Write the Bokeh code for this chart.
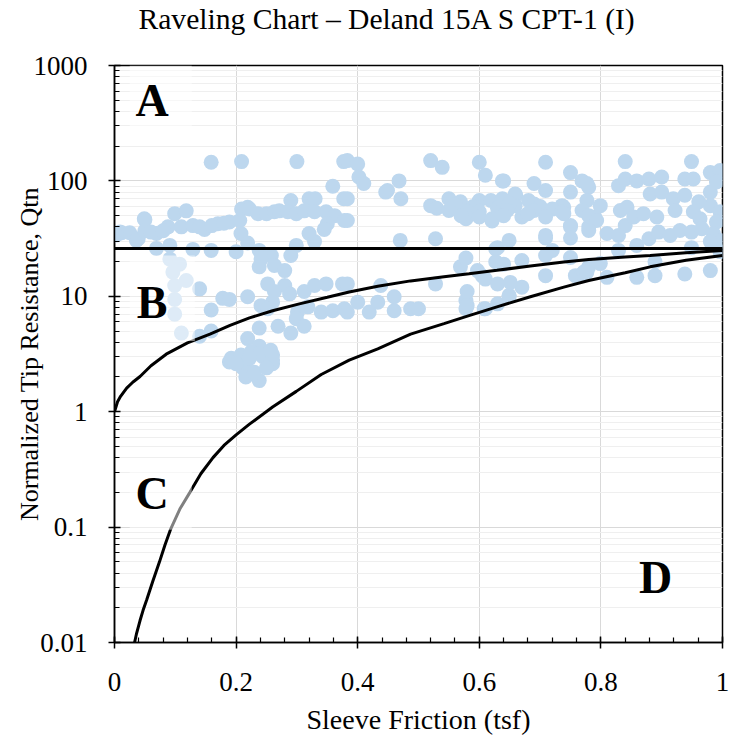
from bokeh.plotting import figure
from bokeh.models import (ColumnDataSource, FixedTicker, CustomJSTickFormatter,
                          BoxAnnotation, Label, Span, Title)
from bokeh.embed import file_html
from bokeh.resources import INLINE

# ---------------- data ----------------
fs_top = [0.159, 0.209, 0.300, 0.377, 0.383, 0.400, 0.520, 0.539, 0.600, 0.709, 0.840, 0.949]
q_top = [145, 147, 147, 147, 150, 140, 150, 131, 145, 145, 147, 147]

fs_upper = [0.359, 0.377, 0.290, 0.320, 0.330, 0.402, 0.410, 0.383, 0.449, 0.468, 0.471, 0.446,
            0.520, 0.550, 0.569, 0.610, 0.638, 0.640, 0.690, 0.709, 0.750, 0.769, 0.780, 0.750,
            0.660, 0.600, 0.619, 0.638, 0.659, 0.659, 0.681, 0.690, 0.736, 0.739, 0.777, 0.829,
            0.840, 0.859, 0.879, 0.900, 0.881, 0.900, 0.919, 0.938, 0.952, 0.938, 0.980, 0.996,
            0.980, 0.990, 0.980, 0.961, 0.777, 0.799, 0.843, 0.219,
            0.590, 0.630, 0.560, 0.700, 0.720, 0.530, 0.650]
q_upper = [90, 70, 67.6, 70, 70, 108, 95, 70, 82.6, 100, 70, 80,
           61, 70, 66, 112, 100, 100, 95, 82.6, 118, 100, 88, 80,
           75, 67.6, 67.6, 70, 77, 61, 67.6, 63, 61, 59, 95, 91,
           104, 100, 104, 108, 77, 80, 70, 104, 104, 75, 118, 123,
           80, 98, 61, 66, 67.6, 61, 59, 59,
           60, 58, 62, 60, 57, 58, 64]

fs_band = [0.049, 0.050, 0.099, 0.118, 0.088, 0.110, 0.129, 0.170, 0.189, 0.206, 0.209, 0.222,
           0.236, 0.250, 0.263, 0.271, 0.285, 0.299, 0.312, 0.329, 0.348, 0.362, 0.378, 0.350,
           0.383, 0.550, 0.578, 0.580, 0.600, 0.600, 0.621, 0.621, 0.638, 0.646, 0.670, 0.690,
           0.709, 0.736, 0.739, 0.750, 0.750, 0.769, 0.780, 0.790, 0.780, 0.793, 0.832, 0.840,
           0.854, 0.870, 0.892, 0.922, 0.952, 0.963, 0.996, 0.990,
           0.570, 0.640, 0.680]
q_band = [47, 46, 52, 55, 40, 40, 41, 42.5, 44, 45.4, 57, 57,
          52, 52, 54, 55, 54, 52, 55, 54, 54, 50, 45.4, 42.5,
          45.4, 55.4, 47, 54, 54, 48.6, 47, 45, 55.4, 55.4, 48.6, 55.4,
          48.6, 54, 52, 41, 40, 55.4, 40, 48.6, 50, 45.4, 55.4, 41,
          48.6, 52, 48.6, 55.4, 54, 47, 54, 44,
          50, 50, 52]

fs_low = [0.009, 0.012, 0.025, 0.036, 0.039, 0.050, 0.069, 0.148, 0.069, 0.091, 0.129, 0.159,
          0.208, 0.219, 0.200, 0.238, 0.345, 0.320, 0.329, 0.299, 0.470, 0.528, 0.649, 0.709,
          0.750, 0.630, 0.709, 0.720, 0.627, 0.780, 0.810, 0.829, 0.879, 0.895, 0.914, 0.930,
          0.949, 0.966, 0.985, 0.996, 0.980, 0.996, 0.949, 0.859, 0.829, 0.003, 0.060, 0.080,
          0.140, 0.160, 0.180]
q_low = [36, 35.5, 35.5, 30.5, 31.5, 37, 35, 38, 26, 27.6, 25.5, 25,
         35, 29, 24.3, 25, 38, 35, 29.8, 27.6, 30.5, 31.5, 30.5, 32,
         32, 26.4, 33.7, 25, 25.7, 37.2, 35, 33.7, 31.5, 36, 33.7, 37.2,
         36, 38.5, 35, 30.5, 29.8, 24.4, 26.4, 27.6, 25, 34, 36, 37,
         40, 41, 43]

fs_mid = [0.091, 0.107, 0.096, 0.118, 0.099, 0.140, 0.099, 0.178, 0.290, 0.258, 0.241, 0.238,
          0.263, 0.280, 0.252, 0.280, 0.263, 0.288, 0.189, 0.219, 0.260, 0.312, 0.329, 0.348,
          0.375, 0.318, 0.383, 0.400, 0.438, 0.433, 0.460, 0.528, 0.569, 0.578, 0.578, 0.605,
          0.627, 0.670, 0.670, 0.649, 0.630, 0.580, 0.709, 0.709, 0.750, 0.758, 0.769, 0.780,
          0.597, 0.610, 0.640, 0.630, 0.651, 0.649, 0.772, 0.799, 0.777, 0.810, 0.859, 0.889,
          0.889, 0.938, 0.980]
q_mid = [21, 19, 16.2, 13.7, 12.4, 11.6, 9.4, 9.6, 22.6, 22.6, 21, 18,
         18.5, 16.7, 12.8, 12.4, 11, 10.5, 9.4, 9.9, 8.9, 11, 12.4, 12.8,
         12.8, 8.1, 12.8, 8.9, 12.4, 8.9, 9.9, 12.8, 18, 21.5, 9.2, 15,
         19.9, 20.4, 12, 10.2, 8.6, 11, 22.6, 15.1, 21.7, 15.1, 15.6, 18,
         16.7, 14.1, 19, 12.8, 13.2, 9.9, 16.2, 19.2, 16.2, 14.6, 14.6, 19.9,
         15.1, 15.6, 16.7]

fs_b = [0.099, 0.159, 0.110, 0.140, 0.159, 0.241, 0.252, 0.301, 0.340, 0.359, 0.378, 0.299,
        0.312, 0.269, 0.290, 0.238, 0.219, 0.238, 0.383, 0.419, 0.460, 0.487, 0.500, 0.578,
        0.580, 0.608, 0.610]
q_b = [7, 7.6, 4.8, 4.5, 5, 8.3, 7.8, 7.3, 7.3, 7.5, 7.8, 6.4,
       5.5, 5.5, 4.8, 5.3, 4.3, 3.7, 7.3, 7.3, 7.5, 7.8, 7.8, 7.8,
       8.3, 7.8, 7.8]

fs_bottom = [0.189, 0.192, 0.208, 0.225, 0.244, 0.260, 0.260, 0.214, 0.238, 0.211, 0.216, 0.238,
             0.260, 0.257, 0.230, 0.250, 0.200, 0.222]
q_bottom = [2.7, 2.9, 3.1, 3.3, 3.0, 3.1, 2.6, 2.5, 3.2, 2.4, 2.0, 1.86,
            2.8, 3.4, 2.2, 2.4, 2.6, 2.9]

# boundary curves
bc_fs = [0, 0.005, 0.01, 0.02, 0.03, 0.042, 0.06, 0.085, 0.12, 0.157, 0.19, 0.222, 0.26,
         0.304, 0.35, 0.386, 0.433, 0.487, 0.542, 0.583, 0.629, 0.684, 0.739, 0.78, 0.84,
         0.881, 0.94, 1.0]
bc_q = [1.0, 1.22, 1.36, 1.6, 1.8, 2.02, 2.5, 3.15, 3.95, 4.7, 5.6, 6.5, 7.5,
        8.6, 9.8, 10.9, 12.2, 13.6, 14.8, 15.7, 16.8, 18.3, 19.8, 20.8, 21.9,
        22.6, 23.8, 24.9]

cd_fs = [0.033, 0.036, 0.042, 0.047, 0.053, 0.063, 0.074, 0.083, 0.092, 0.108, 0.124, 0.142,
         0.162, 0.18, 0.2, 0.222, 0.26, 0.299, 0.34, 0.386, 0.433, 0.487, 0.542, 0.583,
         0.629, 0.684, 0.739, 0.78, 0.84, 0.881, 0.94, 1.0]
cd_q = [0.01, 0.0118, 0.0155, 0.019, 0.0235, 0.034, 0.05, 0.07, 0.095, 0.145, 0.2, 0.29,
        0.4, 0.51, 0.63, 0.78, 1.1, 1.5, 2.1, 2.8, 3.5, 4.7, 5.8, 6.8,
        8.1, 9.9, 12.0, 13.7, 16.0, 18.0, 20.5, 22.6]

qtn_limit = 26

x_ticks = [0, 0.2, 0.4, 0.6, 0.8, 1.0]
y_ticks = [0.01, 0.1, 1, 10, 100, 1000]

chart_title = "Raveling Chart \u2013 Deland 15A S CPT-1 (I)"

# ---------------- figure ----------------
FONT = "Liberation Serif"

all_fs = fs_top + fs_upper + fs_band + fs_low + fs_mid + fs_b + fs_bottom
all_q = q_top + q_upper + q_band + q_low + q_mid + q_b + q_bottom
assert len(all_fs) == len(all_q)
src = ColumnDataSource(dict(x=all_fs, y=all_q))

p = figure(frame_width=608, frame_height=577, y_axis_type="log",
           x_range=(0, 1), y_range=(0.01, 1000),
           output_backend="svg", toolbar_location=None,
           min_border_left=114, min_border_top=65, min_border_right=8,
           min_border_bottom=92, background_fill_color="white",
           border_fill_color="white")

p.title.text = chart_title
p.title.text_font = FONT
p.title.text_font_size = "29.6px"
p.title.text_font_style = "normal"
p.title.align = "left"
p.title.offset = 24
p.title.standoff = 0
p.title.text_color = "black"

# invisible spacer between the title and the plot frame
p.add_layout(Title(text=" ", text_font_size="1px", standoff=28), "above")

# grid
p.xgrid.grid_line_color = "#d9d9d9"
p.ygrid.grid_line_color = "#d9d9d9"
p.ygrid.minor_grid_line_color = "#efefef"

minor_y = [m * 10.0 ** e for e in range(-2, 3) for m in range(2, 10)]
p.yaxis.ticker = FixedTicker(ticks=y_ticks, minor_ticks=minor_y)
p.xaxis.ticker = FixedTicker(ticks=x_ticks, minor_ticks=[i * 0.04 for i in range(26)])
fmt = "return Number(tick.toPrecision(6)).toString();"
p.yaxis.formatter = CustomJSTickFormatter(code=fmt)
p.xaxis.formatter = CustomJSTickFormatter(code=fmt)

for ax in (p.xaxis, p.yaxis):
    ax.axis_line_color = "black"
    ax.axis_line_width = 1.5
    ax.major_tick_line_color = "black"
    ax.major_tick_line_width = 1.5
    ax.minor_tick_line_color = "black"
    ax.minor_tick_line_width = 1.2
    ax.major_tick_in = 6
    ax.major_tick_out = 6
    ax.minor_tick_in = 5
    ax.minor_tick_out = 0
    ax.major_label_text_font = FONT
    ax.major_label_text_font_size = "27px"
    ax.major_label_text_color = "black"
    ax.axis_label_text_font = FONT
    ax.axis_label_text_font_style = "normal"
    ax.axis_label_text_color = "black"

p.xaxis.axis_label_text_font_size = "28px"
p.yaxis.axis_label_text_font_size = "26px"
p.xaxis.axis_label = "Sleeve Friction (tsf)"
p.yaxis.axis_label = "Normalized Tip Resistance, Qtn"
p.xaxis.major_label_standoff = 24
p.yaxis.major_label_standoff = 21
p.xaxis.axis_label_standoff = 10
p.yaxis.axis_label_standoff = -13

p.outline_line_color = "black"
p.outline_line_width = 1.5
p.outline_line_alpha = 1

# points
p.scatter("x", "y", source=src, size=15, fill_color="#BDD7EE", line_color=None)

# boundary lines
p.line(bc_fs, bc_q, line_color="black", line_width=3)
p.line(cd_fs, cd_q, line_color="black", line_width=3)
p.add_layout(Span(location=qtn_limit, dimension="width", line_color="black", line_width=3))

# zone labels with semi-transparent boxes
for (l, r, b, t) in [(0.025, 0.127, 273, 1000), (0.025, 0.132, 4.1, 22.6), (0.025, 0.127, 0.095, 0.36)]:
    p.add_layout(BoxAnnotation(left=l, right=r, bottom=b, top=t, fill_color="white",
                               fill_alpha=0.5, line_alpha=0, level="annotation"))

for (tx, ty, s) in [(0.062, 498, "A"), (0.062, 8.8, "B"), (0.062, 0.195, "C"), (0.89, 0.0366, "D")]:
    p.add_layout(Label(x=tx, y=ty, text=s, text_font=FONT, text_font_style="bold",
                       text_font_size="46px", text_align="center", text_baseline="middle",
                       text_color="black"))

open("out.html", "w").write(file_html(p, INLINE))
